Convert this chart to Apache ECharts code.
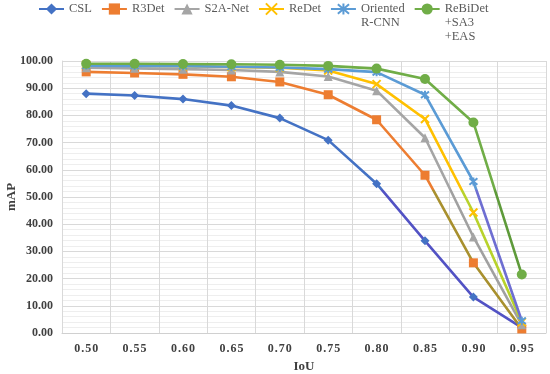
<!DOCTYPE html>
<html>
<head>
<meta charset="utf-8">
<script src="https://cdn.jsdelivr.net/npm/echarts@6/dist/echarts.min.js"></script>
<style>html,body{margin:0;padding:0;background:#fff;}#c{width:550px;height:374px;}</style>
</head>
<body>
<div id="c"></div>
<script>
var categories = ['0.50','0.55','0.60','0.65','0.70','0.75','0.80','0.85','0.90','0.95'];
var seriesNames = ['CSL','R3Det','S2A-Net','ReDet','Oriented R-CNN','ReBiDet +SA3 +EAS'];
var cslValues      = [88.0, 87.3, 86.0, 83.6, 79.0, 70.9, 54.9, 33.9, 13.2, 2.0];
var r3detValues    = [96.0, 95.6, 95.1, 94.2, 92.3, 87.6, 78.4, 58.0, 25.8, 1.5];
var s2anetValues   = [97.5, 97.3, 97.0, 96.7, 96.0, 94.3, 89.1, 71.8, 35.3, 3.0];
var redetValues    = [98.5, 98.3, 98.1, 97.8, 97.5, 96.5, 91.5, 78.7, 44.3, 4.0];
var orientedValues = [98.3, 98.2, 98.1, 97.9, 97.6, 97.0, 95.9, 87.6, 55.7, 4.5];
var rebidetValues  = [99.0, 99.0, 98.9, 98.8, 98.6, 98.2, 97.2, 93.4, 77.4, 21.5];
var yTicks = {min: 0, max: 100, interval: 10};
var yAxisTitle = 'mAP';
var xAxisTitle = 'IoU';

var colors = ['#4472C4','#ED7D31','#A5A5A5','#FFC000','#5B9BD5','#70AD47'];
var shiftColors = ['#5252C4','#A8902E','#A0A0A0','#B8D22C','#6E6ED2','#5E9A3A'];
var allValues = [cslValues, r3detValues, s2anetValues, redetValues, orientedValues, rebidetValues];
var symbols = ['diamond','rect','triangle',
  'path://M0,0L10,10M10,0L0,10',
  'path://M0,0L10,10M10,0L0,10M5,-1L5,11',
  'circle'];
var symbolSizes = [9, 9, 9, 8, 8, 10];

var legendLabels = {
  'CSL':'CSL','R3Det':'R3Det','S2A-Net':'S2A-Net','ReDet':'ReDet',
  'Oriented R-CNN':' \nOriented\nR-CNN',
  'ReBiDet +SA3 +EAS':' \n \nReBiDet\n+SA3\n+EAS'
};

function grad(c1, c2){
  return {type:'linear', x:0, y:0, x2:0, y2:374, global:true,
    colorStops:[{offset:0,color:c1},{offset:0.505,color:c1},{offset:0.51,color:c2},{offset:1,color:c2}]};
}

var series = seriesNames.map(function(n,i){
  var isPath = i===3 || i===4;
  return {
    name:n, type:'line', data:allValues[i],
    symbol:symbols[i], symbolSize:symbolSizes[i], showAllSymbol:true,
    lineStyle:{width:2.6, color:grad(colors[i], shiftColors[i])},
    itemStyle:{color:colors[i], borderColor:colors[i], borderWidth: isPath?2:0},
    z: 10+i
  };
});

var chart = echarts.init(document.getElementById('c'), null, {renderer:'canvas'});
chart.setOption({
  animation:false,
  color:colors,
  textStyle:{fontFamily:'Liberation Serif'},
  legend:{
    top:-31, left:33, itemWidth:25, itemHeight:14, itemGap:9,
    textStyle:{fontFamily:'Liberation Serif', fontSize:12.5, color:'#595959', lineHeight:14},
    formatter:function(n){return legendLabels[n];},
    data:seriesNames
  },
  graphic:[{
    type:'text', x:12, y:197, rotation:Math.PI/2,
    style:{text:yAxisTitle, fontFamily:'Liberation Serif', fontWeight:'bold', fontSize:13,
      fill:'#404040', align:'center', verticalAlign:'middle'}
  }],
  grid:{left:62, right:4, top:61, bottom:41, containLabel:false, outerBoundsMode:'none'},
  xAxis:{
    type:'category', data:categories, boundaryGap:true,
    name:xAxisTitle, nameLocation:'middle', nameGap:22,
    nameTextStyle:{fontFamily:'Liberation Serif', fontWeight:'bold', fontSize:13, color:'#404040'},
    axisLine:{lineStyle:{color:'#d0d0d0'}},
    axisTick:{show:false},
    axisLabel:{fontFamily:'Liberation Serif', fontWeight:'bold', fontSize:12, color:'#404040', margin:10,
      formatter:function(v){return v.split('').join('\u200A');}},
    splitLine:{show:true, lineStyle:{color:'#d9d9d9'}}
  },
  yAxis:{
    type:'value', min:yTicks.min, max:yTicks.max, interval:yTicks.interval,
    axisLine:{show:true, lineStyle:{color:'#d9d9d9'}},
    axisTick:{show:false},
    axisLabel:{fontFamily:'Liberation Serif', fontWeight:'bold', fontSize:12, color:'#404040', margin:9,
      formatter:function(v){return v.toFixed(2);}},
    splitLine:{show:true, lineStyle:{color:'#d9d9d9'}},
    minorTick:{show:false, splitNumber:5},
    minorSplitLine:{show:true, lineStyle:{color:'#eeeeee'}}
  },
  series:series
});
</script>
</body>
</html>
